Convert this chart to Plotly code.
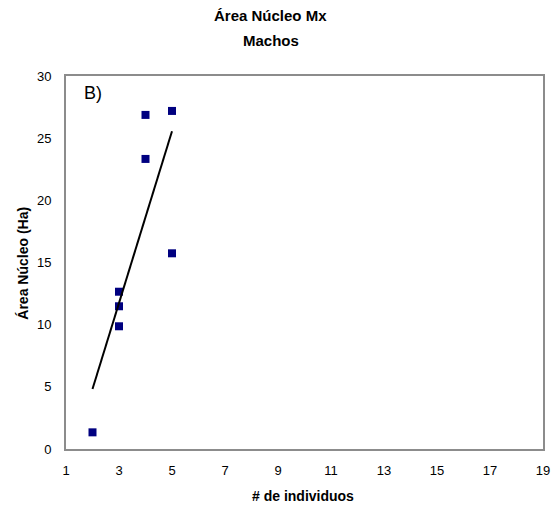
import numpy as np
import plotly.graph_objects as go

# Number of individuals and core area (ha) for males
individuos = [2, 3, 3, 3, 4, 4, 5, 5]
area_nucleo = [1.34, 12.65, 11.48, 9.87, 26.87, 23.33, 27.19, 15.74]

x_ticks = [1, 3, 5, 7, 9, 11, 13, 15, 17, 19]
y_ticks = [0, 5, 10, 15, 20, 25, 30]

# Least-squares linear trend line over the observed range
slope, intercept = np.polyfit(individuos, area_nucleo, 1)
trend_x = [min(individuos), max(individuos)]
trend_y = [slope * v + intercept for v in trend_x]

fig = go.Figure()
fig.add_trace(go.Scatter(
    x=individuos, y=area_nucleo, mode="markers",
    marker=dict(symbol="square", size=8, color="#000080"),
    showlegend=False, hoverinfo="x+y",
))
fig.add_trace(go.Scatter(
    x=trend_x, y=trend_y, mode="lines",
    line=dict(color="black", width=2),
    showlegend=False, hoverinfo="skip",
))

FONT = "Liberation Sans, Arial, sans-serif"
tick_font = dict(family=FONT, size=13, color="black")
label_font = dict(family=FONT, size=14, color="black")
head_font = dict(family=FONT, size=15, color="black")

def note(text, x, y, font, **kw):
    return dict(text=text, x=x, y=y, xref="paper", yref="paper",
                showarrow=False, font=font, **kw)

fig.update_layout(
    width=557, height=510,
    margin=dict(l=66, r=14, t=76, b=61, autoexpand=False),
    paper_bgcolor="white", plot_bgcolor="white",
    xaxis=dict(
        range=[1, 19], tickmode="array", tickvals=x_ticks,
        showgrid=False, zeroline=False, automargin=False,
        showline=True, linecolor="#8c8c8c", linewidth=2, mirror=True,
        ticks="", tickfont=tick_font, ticklabelstandoff=8,
    ),
    yaxis=dict(
        range=[0, 30], tickmode="array", tickvals=y_ticks,
        showgrid=False, zeroline=False, automargin=False,
        showline=True, linecolor="#8c8c8c", linewidth=2, mirror=True,
        ticks="", tickfont=tick_font, ticklabelstandoff=10,
    ),
    annotations=[
        note("<b>Área Núcleo Mx</b>", 0.429, 1.1635, head_font,
             xanchor="center", yanchor="middle"),
        note("<b>Machos</b>", 0.429, 1.0965, head_font,
             xanchor="center", yanchor="middle"),
        note("<b># de individuos</b>", 0.497, -0.126, label_font,
             xanchor="center", yanchor="middle"),
        note("<b>Área Núcleo (Ha)</b>", -0.090, 0.497, label_font,
             xanchor="center", yanchor="middle", textangle=-90),
        note("B)", 0.033, 0.955, dict(family=FONT, size=18, color="black"),
             xanchor="left", yanchor="middle"),
    ],
)

fig.write_html("out.html")
